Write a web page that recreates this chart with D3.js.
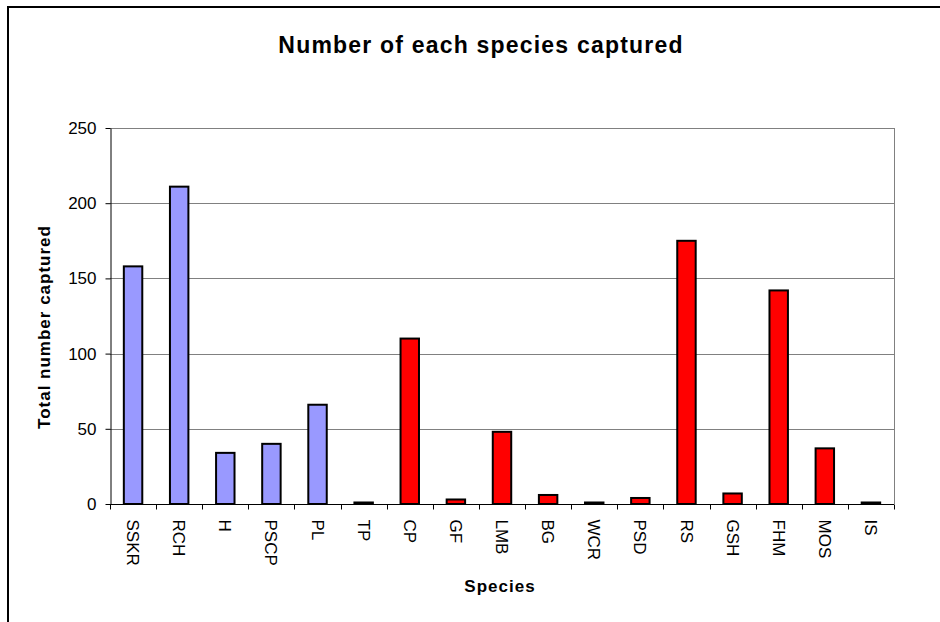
<!DOCTYPE html>
<meta charset="utf-8">
<head>
    <style>
        body { margin: 0; background: #fff; }
        text { font-family: Arial, 'Liberation Sans', sans-serif; fill: #000; }
        .grid line { stroke: #808080; stroke-width: 1; }
        .bar { stroke: #000; stroke-width: 2; }
    </style>
</head>
<body>
    <svg width="940" height="622"></svg>

    <script src="https://d3js.org/d3.v7.min.js"></script>
    <script type="text/javascript">

        // data
        var species = ["SSKR", "RCH", "H", "PSCP", "PL", "TP", "CP", "GF", "LMB", "BG", "WCR", "PSD", "RS", "GSH", "FHM", "MOS", "IS"];
        var captured = [158, 211, 34, 40, 66, 1, 110, 3, 48, 6, 1, 4, 175, 7, 142, 37, 1];
        var group = ["blue", "blue", "blue", "blue", "blue", "red", "red", "red", "red", "red", "red", "red", "red", "red", "red", "red", "red"];
        var yTicks = [0, 50, 100, 150, 200, 250];

        var svg = d3.select("svg");

        var plotLeft = 110, plotRight = 894, plotTop = 128, plotBottom = 504;

        var color = d3.scaleOrdinal()
            .domain(["blue", "red"])
            .range(["#9999FF", "#FF0000"]);

        var x = d3.scaleBand()
            .domain(species)
            .range([plotLeft, plotRight])
            .padding(0);

        var y = d3.scaleLinear()
            .domain([0, 250])
            .range([plotBottom, plotTop]);

        // outer chart border (runs off the right and bottom)
        svg.append("rect")
            .attr("x", 8).attr("y", 7)
            .attr("width", 960).attr("height", 640)
            .attr("fill", "none")
            .attr("stroke", "#000")
            .attr("stroke-width", 2);

        // title
        svg.append("text")
            .attr("x", 481).attr("y", 53)
            .attr("text-anchor", "middle")
            .style("font-size", "23px")
            .style("font-weight", "bold")
            .style("letter-spacing", "1.2px")
            .text("Number of each species captured");

        // gridlines
        svg.append("g")
            .attr("class", "grid")
            .selectAll("line")
            .data(yTicks.filter(function (d) { return d > 0; }))
            .enter().append("line")
            .attr("x1", plotLeft).attr("x2", plotRight)
            .attr("y1", function (d) { return Math.round(y(d)) + 0.5; })
            .attr("y2", function (d) { return Math.round(y(d)) + 0.5; });

        // right edge of plot area
        svg.append("line")
            .attr("x1", plotRight + 0.5).attr("x2", plotRight + 0.5)
            .attr("y1", plotTop).attr("y2", plotBottom)
            .attr("stroke", "#808080");

        // bars
        var barW = x.bandwidth() * 0.4;
        svg.append("g")
            .selectAll("rect")
            .data(species)
            .enter().append("rect")
            .attr("class", "bar")
            .attr("x", function (d) { return x(d) + (x.bandwidth() - barW) / 2; })
            .attr("width", barW)
            .attr("y", function (d, i) { return y(captured[i]); })
            .attr("height", function (d, i) { return plotBottom - y(captured[i]); })
            .attr("fill", function (d, i) { return color(group[i]); });

        // y axis
        var yAxis = svg.append("g")
            .attr("transform", "translate(" + (plotLeft + 0.5) + ",0)")
            .call(d3.axisLeft(y).tickValues(yTicks).tickSize(5).tickSizeOuter(0).tickPadding(9));
        yAxis.selectAll("text").style("font-size", "17px").style("font-family", "Arial, 'Liberation Sans', sans-serif");
        yAxis.select(".domain").attr("stroke", "#000");

        // x axis: ticks between categories
        var xAxis = svg.append("g")
            .attr("transform", "translate(0," + (plotBottom + 0.5) + ")");
        xAxis.append("line")
            .attr("x1", plotLeft).attr("x2", plotRight)
            .attr("stroke", "#000");
        xAxis.selectAll(".tk")
            .data(species.concat(["end"]))
            .enter().append("line")
            .attr("class", "tk")
            .attr("x1", function (d, i) { return Math.round(plotLeft + i * x.step()) + 0.5; })
            .attr("x2", function (d, i) { return Math.round(plotLeft + i * x.step()) + 0.5; })
            .attr("y1", 0).attr("y2", 5)
            .attr("stroke", "#000");

        xAxis.selectAll(".lbl")
            .data(species)
            .enter().append("text")
            .attr("class", "lbl")
            .attr("transform", function (d) {
                return "translate(" + (x(d) + x.bandwidth() / 2) + ",15) rotate(90)";
            })
            .attr("dy", "0.35em")
            .attr("text-anchor", "start")
            .style("font-size", "17px")
            .text(function (d) { return d; });

        // axis titles
        svg.append("text")
            .attr("x", 500).attr("y", 592)
            .attr("text-anchor", "middle")
            .style("font-size", "17px")
            .style("font-weight", "bold")
            .style("letter-spacing", "1px")
            .text("Species");

        svg.append("text")
            .attr("transform", "translate(50,327) rotate(-90)")
            .attr("text-anchor", "middle")
            .style("font-size", "17px")
            .style("font-weight", "bold")
            .style("letter-spacing", "1px")
            .text("Total number captured");

    </script>
</body>
